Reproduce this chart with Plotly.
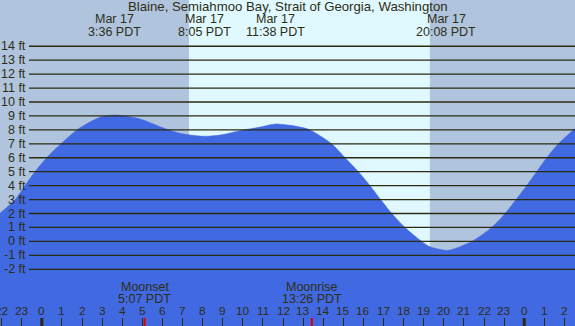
import plotly.graph_objects as go

# ---- data (hours since Mar 17 00:00 PDT, tide height in ft) ----
tide_hours = [-2.08, -1.33, -0.84, -0.34, 0.24, 0.95, 1.74, 2.07, 2.89, 3.64,
              4.89, 5.88, 6.88, 8.02, 8.87, 9.86, 10.86, 11.63, 12.35, 12.85,
              13.34, 14.42, 15.09, 15.75, 16.33, 16.86, 17.41, 18.07, 18.90,
              19.31, 19.81, 20.22, 21.39, 22.38, 23.05, 23.59, 24.12, 24.62,
              25.12, 25.70, 26.53]
tide_ft = [2.02, 3.0, 4.0, 5.0, 6.0, 7.0, 8.0, 8.3, 8.9, 9.06,
           8.78, 8.23, 7.75, 7.54, 7.63, 7.94, 8.2, 8.42, 8.33, 8.2,
           8.0, 7.0, 6.0, 5.0, 4.0, 3.0, 2.0, 1.0, 0.0,
           -0.38, -0.57, -0.64, 0.0, 1.0, 2.0, 3.0, 4.0, 5.0,
           6.0, 7.0, 8.1]

title = "Blaine, Semiahmoo Bay, Strait of Georgia, Washington"
extreme_hours = [3.6, 8.083, 11.633, 20.133]
extreme_dates = ["Mar 17", "Mar 17", "Mar 17", "Mar 17"]
extreme_times = ["3:36 PDT", "8:05 PDT", "11:38 PDT", "20:08 PDT"]

sunrise_h = 7.32
sunset_h = 19.31

moon_hours = [5.117, 13.433]
moon_names = ["Moonset", "Moonrise"]
moon_times = ["5:07 PDT", "13:26 PDT"]

hour_ticks = list(range(-2, 27))
hour_labels = [str(h % 24) for h in hour_ticks]
midnight_hours = [0, 24]

ft_levels = list(range(-2, 15))
ft_labels = [f"{v} ft" for v in ft_levels]

X_RANGE = [-2.08, 26.527]
Y_RANGE = [-6.069, 17.317]
W, H = 575, 326

TXT = "#2E2E14"
LINE = "#2B2B10"
FONT = "Liberation Sans"
FS = 12.5

def py(px):
    return 1 - px / H

fig = go.Figure()
fig.add_trace(go.Scatter(x=[X_RANGE[0] - 1, X_RANGE[1] + 1], y=[-20, -20],
                         mode="lines", line=dict(width=0, color="#4169E1"),
                         hoverinfo="skip", showlegend=False))
fig.add_trace(go.Scatter(x=tide_hours, y=tide_ft, mode="lines",
                         line=dict(shape="spline", smoothing=0.8, width=0.5, color="#4169E1"),
                         fill="tonexty", fillcolor="#4169E1",
                         hoverinfo="skip", showlegend=False))

shapes = []
# night / day backgrounds
shapes.append(dict(type="rect", xref="x", yref="paper", x0=X_RANGE[0] - 1, x1=sunrise_h,
                   y0=0, y1=1, fillcolor="#B0C4DE", line_width=0, layer="below"))
shapes.append(dict(type="rect", xref="x", yref="paper", x0=sunrise_h, x1=sunset_h,
                   y0=0, y1=1, fillcolor="#E0F8FF", line_width=0, layer="below"))
shapes.append(dict(type="rect", xref="x", yref="paper", x0=sunset_h, x1=X_RANGE[1] + 1,
                   y0=0, y1=1, fillcolor="#B0C4DE", line_width=0, layer="below"))
# level lines
for v in ft_levels:
    shapes.append(dict(type="line", xref="paper", yref="y", x0=29 / W, x1=1, y0=v, y1=v,
                       line=dict(color=LINE, width=1.3), layer="above"))
# midnight ticks
for h in midnight_hours:
    shapes.append(dict(type="line", xref="x", yref="paper", x0=h, x1=h, y0=0, y1=8 / H,
                       line=dict(color=LINE, width=3), layer="above"))
# moon ticks
for h in moon_hours:
    shapes.append(dict(type="line", xref="x", yref="paper", x0=h, x1=h, y0=0, y1=8 / H,
                       line=dict(color="#E00000", width=2), layer="above"))

ann = []
ann.append(dict(text=title, x=0.5, xref="paper", y=py(7), yref="paper",
                showarrow=False, xanchor="center", yanchor="middle",
                font=dict(size=13.2)))
for h, d, t in zip(extreme_hours, extreme_dates, extreme_times):
    ann.append(dict(text=d, x=h, xref="x", y=py(19.5), yref="paper",
                    showarrow=False, xanchor="center", yanchor="middle"))
    ann.append(dict(text=t, x=h, xref="x", y=py(31.5), yref="paper",
                    showarrow=False, xanchor="center", yanchor="middle"))
for h, n, t in zip(moon_hours, moon_names, moon_times):
    ann.append(dict(text=n, x=h, xref="x", y=py(287), yref="paper",
                    showarrow=False, xanchor="center", yanchor="middle"))
    ann.append(dict(text=t, x=h, xref="x", y=py(299), yref="paper",
                    showarrow=False, xanchor="center", yanchor="middle"))
for h, lab in zip(hour_ticks, hour_labels):
    ann.append(dict(text=lab, x=h, xref="x", y=py(311), yref="paper",
                    showarrow=False, xanchor="center", yanchor="middle",
                    font=dict(size=11.8)))
for v, lab in zip(ft_levels, ft_labels):
    ann.append(dict(text=lab, x=27.5 / W, xref="paper", y=v, yref="y",
                    showarrow=False, xanchor="right", yanchor="middle"))

fig.update_layout(
    width=W, height=H,
    margin=dict(l=0, r=0, t=0, b=0),
    paper_bgcolor="#B0C4DE", plot_bgcolor="#B0C4DE",
    font=dict(family=FONT, size=FS, color=TXT),
    shapes=shapes, annotations=ann, showlegend=False,
    xaxis=dict(range=X_RANGE, showgrid=False, zeroline=False, showticklabels=False,
               ticks="inside", ticklen=8, tickwidth=1, tickcolor=LINE,
               tickvals=hour_ticks, showline=False, fixedrange=True),
    yaxis=dict(range=Y_RANGE, showgrid=False, zeroline=False, showticklabels=False,
               showline=False, fixedrange=True),
)

fig.write_html("out.html", config={"displayModeBar": False},
               post_script="document.body.style.margin='0';document.body.style.overflow='hidden';")
